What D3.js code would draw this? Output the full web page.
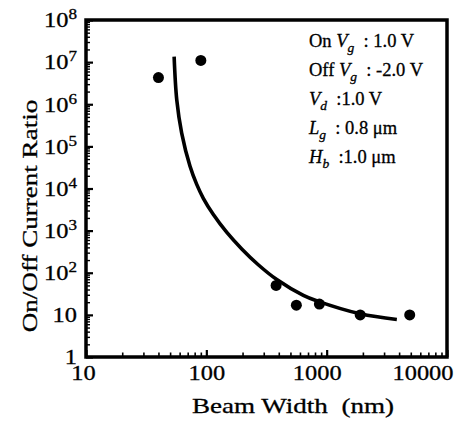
<!DOCTYPE html>
<html>
<head>
<meta charset="utf-8">
<script src="https://cdn.jsdelivr.net/npm/d3@7"></script>
<style>
  body { margin: 0; background: #fff; }
  text { font-family: "Liberation Serif", "Times New Roman", serif; fill: #000; stroke: #000; stroke-width: 0.3px; }
</style>
</head>
<body>
<svg id="chart" width="457" height="424"></svg>
<script>
// measured points
const beamWidth = [40, 90, 380, 560, 870, 1900, 4900];
const onOffRatio = [4.3e6, 1.1e7, 50, 17, 18, 10, 10];

// fitted curve
const fitWidth = [54, 56.8, 62.4, 73.2, 83.2, 94.4, 114, 148, 197, 270, 385, 640, 828, 1900, 3830];
const fitRatio = [1.35e7, 1.26e6, 2.07e5, 3.37e4, 1.25e4, 5850, 2440, 906, 368, 155, 69, 29, 21.5, 10.6, 7.8];

const xMajor = [10, 100, 1000, 10000];
const yMajor = [1, 10, 1e2, 1e3, 1e4, 1e5, 1e6, 1e7, 1e8];

const legendLines = [
  [["On "], ["V", "i"], ["g", "sub"], ["\u00a0\u00a0: 1.0 V"]],
  [["Off "], ["V", "i"], ["g", "sub"], ["\u00a0\u00a0: -2.0 V"]],
  [["V", "i"], ["d", "sub"], ["\u00a0\u00a0:1.0 V"]],
  [["L", "i"], ["g", "sub"], ["\u00a0\u00a0: 0.8 \u03bcm"]],
  [["H", "i"], ["b", "sub"], ["\u00a0\u00a0:1.0 \u03bcm"]],
];

const margin = { top: 20, right: 10, bottom: 67, left: 86 };
const width = 457, height = 424;

const svg = d3.select("#chart");

const x = d3.scaleLog()
  .domain([10, 10000])
  .range([margin.left, width - margin.right]);
const y = d3.scaleLog()
  .domain([1, 1e8])
  .range([height - margin.bottom, margin.top]);

// the original type is wider than Times at the same height
function widen(sel, k) {
  sel.each(function() {
    const len = this.getComputedTextLength();
    d3.select(this)
      .attr("textLength", len * k)
      .attr("lengthAdjust", "spacingAndGlyphs");
  });
}

const xMinor = x.ticks().filter(d => !xMajor.includes(d));
const yMinor = y.ticks().filter(d => !yMajor.includes(d));

const bottomY = height - margin.bottom;

// minor ticks
svg.append("g")
  .attr("transform", `translate(0,${bottomY})`)
  .call(d3.axisBottom(x).tickValues(xMinor).tickSize(-4.5).tickFormat(""))
  .call(g => g.select(".domain").remove())
  .call(g => g.selectAll(".tick line").attr("stroke-width", 1.6));

svg.append("g")
  .attr("transform", `translate(${margin.left},0)`)
  .call(d3.axisLeft(y).tickValues(yMinor).tickSize(-4).tickFormat(""))
  .call(g => g.select(".domain").remove())
  .call(g => g.selectAll(".tick line").attr("stroke-width", 1.4));

// major ticks + labels
const xaxis = svg.append("g")
  .attr("transform", `translate(0,${bottomY})`)
  .call(d3.axisBottom(x).tickValues(xMajor).tickSize(-7).tickPadding(9).tickFormat(d3.format("d")))
  .call(g => g.select(".domain").remove())
  .call(g => g.selectAll(".tick line").attr("stroke-width", 2.2));

xaxis.selectAll(".tick text")
  .attr("font-size", 20)
  .attr("font-family", null)
  .each(function(d) {
    const t = d3.select(this);
    if (d === 10) t.attr("dx", -3);
    if (d === 1000) t.attr("dx", -10);
    if (d === 10000) t.attr("text-anchor", "end").attr("dx", 6);
  });
widen(xaxis.selectAll(".tick text"), 1.22);

const yaxis = svg.append("g")
  .attr("transform", `translate(${margin.left},0)`)
  .call(d3.axisLeft(y).tickValues(yMajor).tickSize(-7).tickPadding(9))
  .call(g => g.select(".domain").remove())
  .call(g => g.selectAll(".tick line").attr("stroke-width", 2.2));

yaxis.selectAll(".tick text")
  .attr("font-size", 20)
  .attr("font-family", null)
  .attr("dy", "0.34em")
  .each(function(d) {
    const e = Math.round(Math.log10(d));
    const t = d3.select(this).text(null);
    if (e < 2) {
      t.text(d);
    } else {
      t.append("tspan").text("10");
      t.append("tspan").attr("dy", -8).attr("font-size", 14).text(e);
    }
  });
widen(yaxis.selectAll(".tick text"), 1.22);

// frame
svg.append("rect")
  .attr("x", margin.left)
  .attr("y", margin.top)
  .attr("width", width - margin.right - margin.left)
  .attr("height", bottomY - margin.top)
  .attr("fill", "none")
  .attr("stroke", "#000")
  .attr("stroke-width", 3.5);

// axis titles
const xTitle = svg.append("text")
  .attr("x", 293)
  .attr("y", 413)
  .attr("text-anchor", "middle")
  .attr("font-size", 22)
  .text("Beam Width\u00a0 (nm)");
widen(xTitle, 1.23);

const yTitle = svg.append("text")
  .attr("transform", "translate(37,216) rotate(-90)")
  .attr("text-anchor", "middle")
  .attr("font-size", 22)
  .text("On/Off Current Ratio");
widen(yTitle, 1.23);

// fit curve
const fit = fitWidth.map((w, i) => [w, fitRatio[i]]);
const line = d3.line()
  .x(d => x(d[0]))
  .y(d => y(d[1]))
  .curve(d3.curveCatmullRom.alpha(0.5));

svg.append("path")
  .datum(fit)
  .attr("d", line)
  .attr("fill", "none")
  .attr("stroke", "#000")
  .attr("stroke-width", 3.6);

// data points
svg.append("g")
  .selectAll("circle")
  .data(beamWidth.map((w, i) => [w, onOffRatio[i]]))
  .join("circle")
  .attr("cx", d => x(d[0]))
  .attr("cy", d => y(d[1]))
  .attr("r", 5.5)
  .attr("fill", "#000");

// legend
const legend = svg.append("g").attr("transform", "translate(309,47)");
legendLines.forEach((parts, i) => {
  const t = legend.append("text")
    .attr("y", i * 29)
    .attr("font-size", 18.5);
  let shifted = false;
  parts.forEach(([txt, kind]) => {
    const s = t.append("tspan").text(txt);
    if (kind === "i" || kind === "sub") s.attr("font-style", "italic");
    if (kind === "sub") {
      s.attr("font-size", 13.5).attr("dy", 5);
      shifted = true;
    } else if (shifted) {
      s.attr("dy", -5);
      shifted = false;
    }
  });
});
</script>
</body>
</html>
